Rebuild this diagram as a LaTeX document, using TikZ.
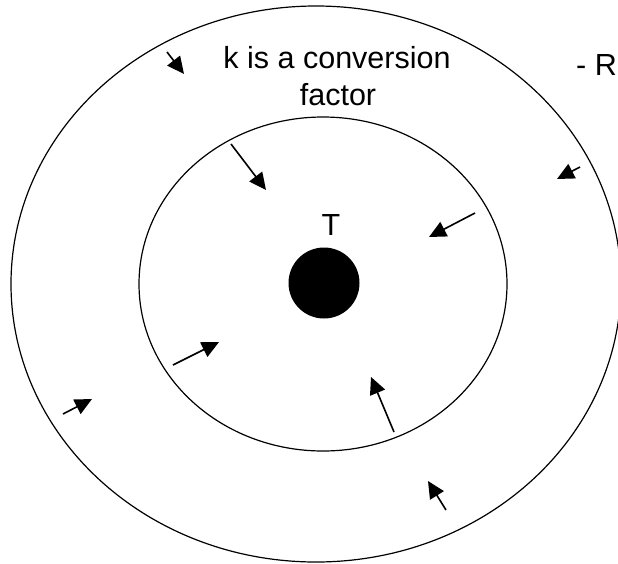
\documentclass[tikz,border=0pt]{standalone}
\usepackage{fontspec}
\setmainfont{Liberation Sans}
\usetikzlibrary{arrows.meta}
\begin{document}
\begin{tikzpicture}[x=1pt,y=-1pt,
  ring/.style={draw=black,line width=1.2pt},
  flow/.style={draw=black,line width=1.6pt,-{Triangle[length=17pt,width=16pt]}},
  lbl/.style={font=\fontsize{30.5}{34}\selectfont,inner sep=0pt,anchor=base}]
\useasboundingbox (0,0) rectangle (618,563);
\clip (0,0) rectangle (618,563);
\fill[white] (0,0) rectangle (618,563);
% rings
\draw[ring] (316,284) ellipse [x radius=305, y radius=278];
\draw[ring] (323,284) ellipse [x radius=184, y radius=167];
\fill[black] (324,283) circle (35.5);
% labels
\node[lbl] (k1) at (337,68) {k is a conversion};
\node[lbl] (k2) at (338,105) {factor};
\node[lbl,anchor=base east] (r) at (617,75) {- R};
\node[lbl] (t) at (331,235) {T};
% arrows
\coordinate (a1s) at (167,52);  \coordinate (a1e) at (184,74);
\coordinate (a2s) at (231,144); \coordinate (a2e) at (266,190);
\coordinate (a3s) at (475,213); \coordinate (a3e) at (429,237);
\coordinate (a4s) at (580,167); \coordinate (a4e) at (557,179);
\coordinate (a5s) at (173,365); \coordinate (a5e) at (219,342);
\coordinate (a6s) at (394,432); \coordinate (a6e) at (371,377);
\coordinate (a7s) at (63,414);  \coordinate (a7e) at (92,399);
\coordinate (a8s) at (446,510); \coordinate (a8e) at (428,481);
\foreach \i in {1,...,8} {\draw[flow] (a\i s) -- (a\i e);}
\end{tikzpicture}
\end{document}
